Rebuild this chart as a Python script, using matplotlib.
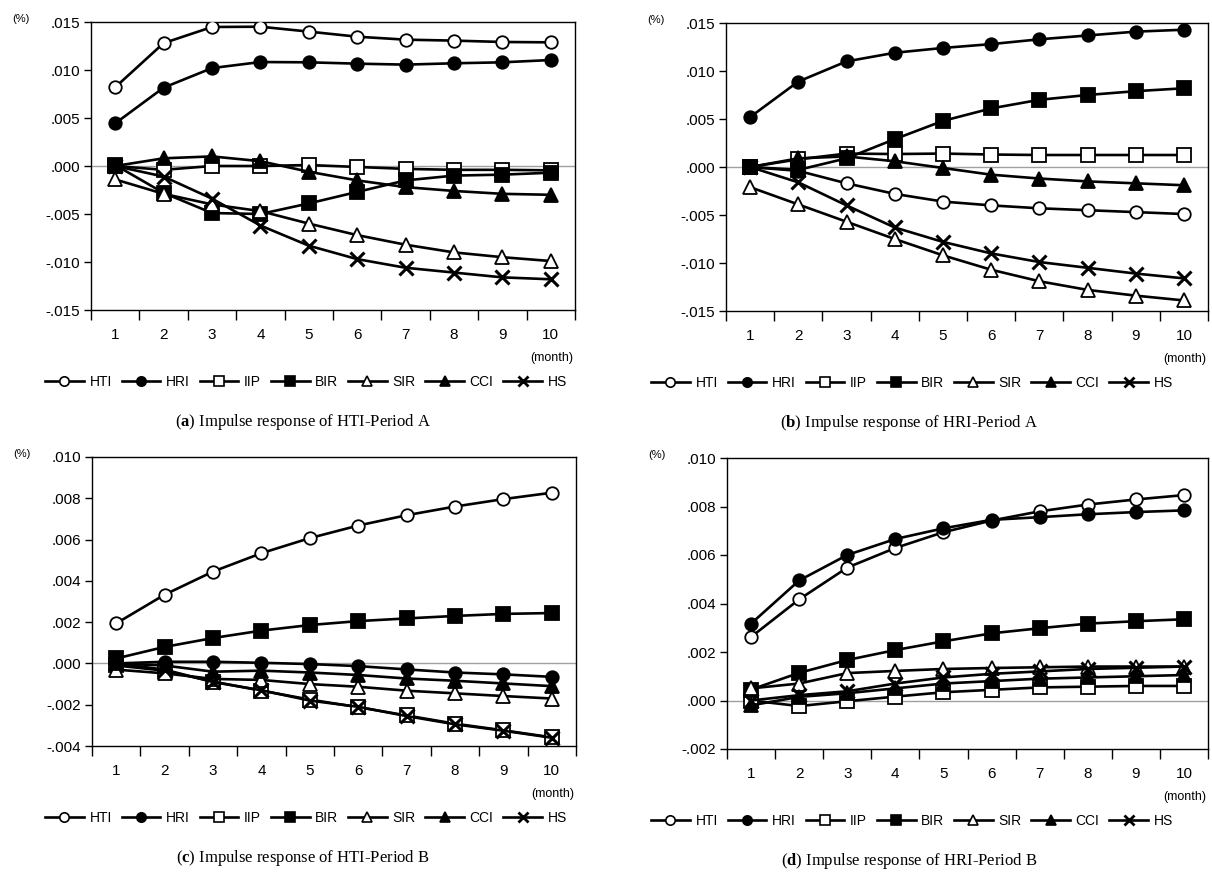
import matplotlib
matplotlib.use('Agg')
import matplotlib.pyplot as plt
from matplotlib.ticker import FuncFormatter
from matplotlib.lines import Line2D

plt.rcParams['font.family'] = ['Liberation Sans', 'DejaVu Sans']
plt.rcParams['mathtext.fontset'] = 'custom'
plt.rcParams['mathtext.rm'] = 'Liberation Serif'
plt.rcParams['mathtext.bf'] = 'Liberation Serif:bold'

months = [1, 2, 3, 4, 5, 6, 7, 8, 9, 10]
series_names = ['HTI', 'HRI', 'IIP', 'BIR', 'SIR', 'CCI', 'HS']

# (a) Impulse response of HTI - Period A
a_hti = [0.0082, 0.0128, 0.01448, 0.01451, 0.0140, 0.01347, 0.01316, 0.01306, 0.01292, 0.01288]
a_hri = [0.00444, 0.00816, 0.0102, 0.01083, 0.0108, 0.01066, 0.01056, 0.0107, 0.0108, 0.01104]
a_iip = [0.0, -0.0004, 0.0, 0.0, 0.0001, -0.0001, -0.0003, -0.0004, -0.0004, -0.00045]
a_bir = [0.0001, -0.0028, -0.0049, -0.0050, -0.0039, -0.0027, -0.0015, -0.0010, -0.0009, -0.0007]
a_sir = [-0.0014, -0.0029, -0.0040, -0.0047, -0.0060, -0.0072, -0.0082, -0.0090, -0.0095, -0.0099]
a_cci = [0.0, 0.0008, 0.0010, 0.0005, -0.0006, -0.0015, -0.0022, -0.0026, -0.0029, -0.0030]
a_hs = [0.0, -0.0011, -0.0034, -0.0062, -0.0083, -0.0097, -0.0106, -0.0111, -0.0116, -0.0118]

# (b) Impulse response of HRI - Period A
b_hti = [0.0, -0.0004, -0.0017, -0.0028, -0.0036, -0.0040, -0.0043, -0.0045, -0.0047, -0.0049]
b_hri = [0.0052, 0.0089, 0.0110, 0.0119, 0.0124, 0.0128, 0.0133, 0.0137, 0.0141, 0.0143]
b_iip = [0.0, 0.0008, 0.0014, 0.00135, 0.0014, 0.0013, 0.00125, 0.00125, 0.00125, 0.00125]
b_bir = [0.0, -0.0003, 0.0009, 0.0029, 0.0048, 0.0061, 0.0070, 0.0075, 0.0079, 0.0082]
b_sir = [-0.0021, -0.0039, -0.0057, -0.0075, -0.0092, -0.0107, -0.0119, -0.0128, -0.0134, -0.0139]
b_cci = [0.0, 0.0009, 0.0011, 0.0006, -0.0001, -0.0008, -0.0012, -0.0015, -0.0017, -0.0019]
b_hs = [0.0, -0.0016, -0.0040, -0.0063, -0.0078, -0.0090, -0.0099, -0.0105, -0.0111, -0.0116]

# (c) Impulse response of HTI - Period B
c_hti = [0.00194, 0.00333, 0.00445, 0.00534, 0.00607, 0.00668, 0.00718, 0.0076, 0.00796, 0.00827]
c_hri = [0.0, 0.00008, 0.00008, 0.00003, -0.00003, -0.00013, -0.00029, -0.00044, -0.00053, -0.00065]
c_iip = [-0.0001, -0.00035, -0.00088, -0.00132, -0.00175, -0.00212, -0.00252, -0.00292, -0.00324, -0.00358]
c_bir = [0.00024, 0.0008, 0.00123, 0.00159, 0.00186, 0.00205, 0.00218, 0.0023, 0.0024, 0.00244]
c_sir = [-0.0003, -0.00048, -0.00075, -0.0008, -0.001, -0.00113, -0.00132, -0.00145, -0.00158, -0.0017]
c_cci = [0.0, -0.0001, -0.0004, -0.00035, -0.00044, -0.00056, -0.00073, -0.00084, -0.00097, -0.0011]
c_hs = [0.0, -0.0003, -0.0009, -0.0013, -0.0018, -0.0021, -0.00255, -0.00295, -0.00326, -0.0036]

# (d) Impulse response of HRI - Period B
d_hti = [0.00262, 0.00417, 0.00548, 0.00629, 0.00694, 0.00742, 0.0078, 0.00808, 0.00829, 0.00847]
d_hri = [0.00317, 0.00495, 0.0060, 0.00666, 0.0071, 0.00745, 0.00756, 0.00768, 0.00777, 0.00784]
d_iip = [0.0, -0.00023, -0.00003, 0.00016, 0.00034, 0.00044, 0.00054, 0.00057, 0.0006, 0.0006]
d_bir = [0.00045, 0.00114, 0.00167, 0.00208, 0.00244, 0.00277, 0.00298, 0.00317, 0.00327, 0.00335]
d_sir = [0.0005, 0.0007, 0.00113, 0.00122, 0.0013, 0.00134, 0.00137, 0.0014, 0.0014, 0.0014]
d_cci = [-0.0002, 0.00015, 0.0003, 0.0005, 0.0007, 0.0008, 0.0009, 0.00095, 0.001, 0.00105]
d_hs = [0.0, 0.00022, 0.00038, 0.0007, 0.00095, 0.0011, 0.0012, 0.0013, 0.00135, 0.0014]

panels = [
    ('a', 'Impulse response of HTI-Period A', [a_hti, a_hri, a_iip, a_bir, a_sir, a_cci, a_hs],
     (-0.015, 0.015, 0.005), (91, 575, 22, 310)),
    ('b', 'Impulse response of HRI-Period A', [b_hti, b_hri, b_iip, b_bir, b_sir, b_cci, b_hs],
     (-0.015, 0.015, 0.005), (726, 1208, 23, 311)),
    ('c', 'Impulse response of HTI-Period B', [c_hti, c_hri, c_iip, c_bir, c_sir, c_cci, c_hs],
     (-0.004, 0.010, 0.002), (92, 576, 457, 746)),
    ('d', 'Impulse response of HRI-Period B', [d_hti, d_hri, d_iip, d_bir, d_sir, d_cci, d_hs],
     (-0.002, 0.010, 0.002), (727, 1208, 458, 749)),
]

# marker style per series: (marker, facecolor, size)
styles = [
    ('o', 'white', 9),
    ('o', 'black', 9),
    ('s', 'white', 9.5),
    ('s', 'black', 9.5),
    ('^', 'white', 10),
    ('^', 'black', 10),
    ('x', 'black', 10),
]

W, H = 1212, 873
fig = plt.figure(figsize=(W / 100, H / 100), dpi=100)


def fmt(v, pos):
    s = f'{v:.3f}'
    if s == '-0.000':
        s = '0.000'
    return s.replace('0.', '.', 1)


for letter, caption, data, (ymin, ymax, ystep), (x0, x1, y0, y1) in panels:
    ax = fig.add_axes([x0 / W, 1 - y1 / H, (x1 - x0) / W, (y1 - y0) / H])
    ax.axhline(0, color='#a0a0a0', lw=1.0, zorder=1)
    for name, vals, (mk, fc, ms) in zip(series_names, data, styles):
        ax.plot(months, vals, color='black', lw=1.9, marker=mk, markersize=ms,
                markerfacecolor=fc, markeredgecolor='black',
                markeredgewidth=2.2 if mk == 'x' else 1.3, zorder=3)

    ax.set_xlim(0.5, 10.5)
    ax.set_ylim(ymin, ymax)
    n = int(round((ymax - ymin) / ystep))
    ax.set_yticks([ymin + i * ystep for i in range(n + 1)])
    ax.yaxis.set_major_formatter(FuncFormatter(fmt))
    ax.set_xticks(months)
    ax.set_xticks([m + 0.5 for m in [0] + months], minor=True)
    ax.tick_params(axis='x', which='major', length=0, pad=13, labelsize=11)
    ax.tick_params(axis='x', which='minor', length=7, direction='out', width=1)
    ax.tick_params(axis='y', which='major', length=5, direction='out', width=1,
                   labelsize=11, pad=3)
    for sp in ax.spines.values():
        sp.set_linewidth(1.0)

    fig.text((x0 - 70) / W, 1 - (y0 - 3) / H, '(%)', fontsize=8,
             ha='center', va='center')
    fig.text((x1 - 2) / W, 1 - (y1 + 48) / H, '(month)', fontsize=9,
             ha='right', va='center')

    handles = [Line2D([], [], color='black', lw=1.9, marker=mk, markersize=ms * 0.75,
                      markerfacecolor=fc, markeredgecolor='black',
                      markeredgewidth=2.0 if mk == 'x' else 1.2)
               for mk, fc, ms in styles]
    col_center = 303 if x0 < 600 else 909
    ax.legend(handles, series_names, ncol=7, loc='center',
              bbox_to_anchor=((col_center + 3) / W, 1 - (y1 + 72) / H),
              bbox_transform=fig.transFigure, frameon=False, fontsize=10,
              handlelength=2.8, handletextpad=0.4, columnspacing=0.7)

    fig.text(col_center / W, 1 - (y1 + 112) / H,
             r'($\mathbf{' + letter + r'}$) ' + caption,
             fontsize=12, family='Liberation Serif', ha='center', va='center')

fig.savefig('out.png', dpi=100)
